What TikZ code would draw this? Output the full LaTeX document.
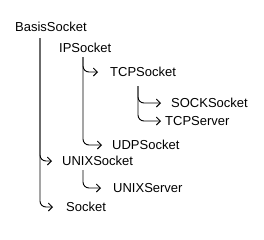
\documentclass[tikz,border=0pt]{standalone}
\usepackage{fontspec}
\setmainfont{Liberation Sans}
\usetikzlibrary{arrows.meta}
\begin{document}
\begin{tikzpicture}[x=1pt,y=-1pt,
  lbl/.style={anchor=west,inner sep=0pt,font=\fontsize{13}{15}\selectfont},
  link/.style={line width=0.9pt,rounded corners=6pt,-{Straight Barb[length=4pt,width=8pt,line width=0.9pt]}}]
\useasboundingbox (0,0) rectangle (264,239);
\node[lbl] (basis) at (15,27) {BasisSocket};
\node[lbl] (ip) at (59,48) {IPSocket};
\node[lbl] (tcp) at (110,72) {TCPSocket};
\node[lbl] (sock) at (171,103) {SOCKSocket};
\node[lbl] (tcpserv) at (165,121) {TCPServer};
\node[lbl] (udp) at (112,145) {UDPSocket};
\node[lbl] (unix) at (62,161) {UNIXSocket};
\node[lbl] (unixserv) at (113,188) {UNIXServer};
\node[lbl] (sock2) at (66,207) {Socket};
\coordinate (t0) at (40,38);
\coordinate (t1) at (83,57);
\coordinate (t2) at (138,86);
\coordinate (t3) at (83,170);
\draw[link] (t0) |- ([xshift=-10pt]unix.west);
\draw[link] (t0) |- ([xshift=-13pt]sock2.west);
\draw[link] (t1) |- ([xshift=-12pt]tcp.west);
\draw[link] (t1) |- ([xshift=-10pt]udp.west);
\draw[link] (t2) |- ([xshift=-10pt]sock.west);
\draw[link] (t2) |- ([xshift=-4pt]tcpserv.west);
\draw[link] (t3) |- ([xshift=-12pt]unixserv.west);
\end{tikzpicture}
\end{document}
